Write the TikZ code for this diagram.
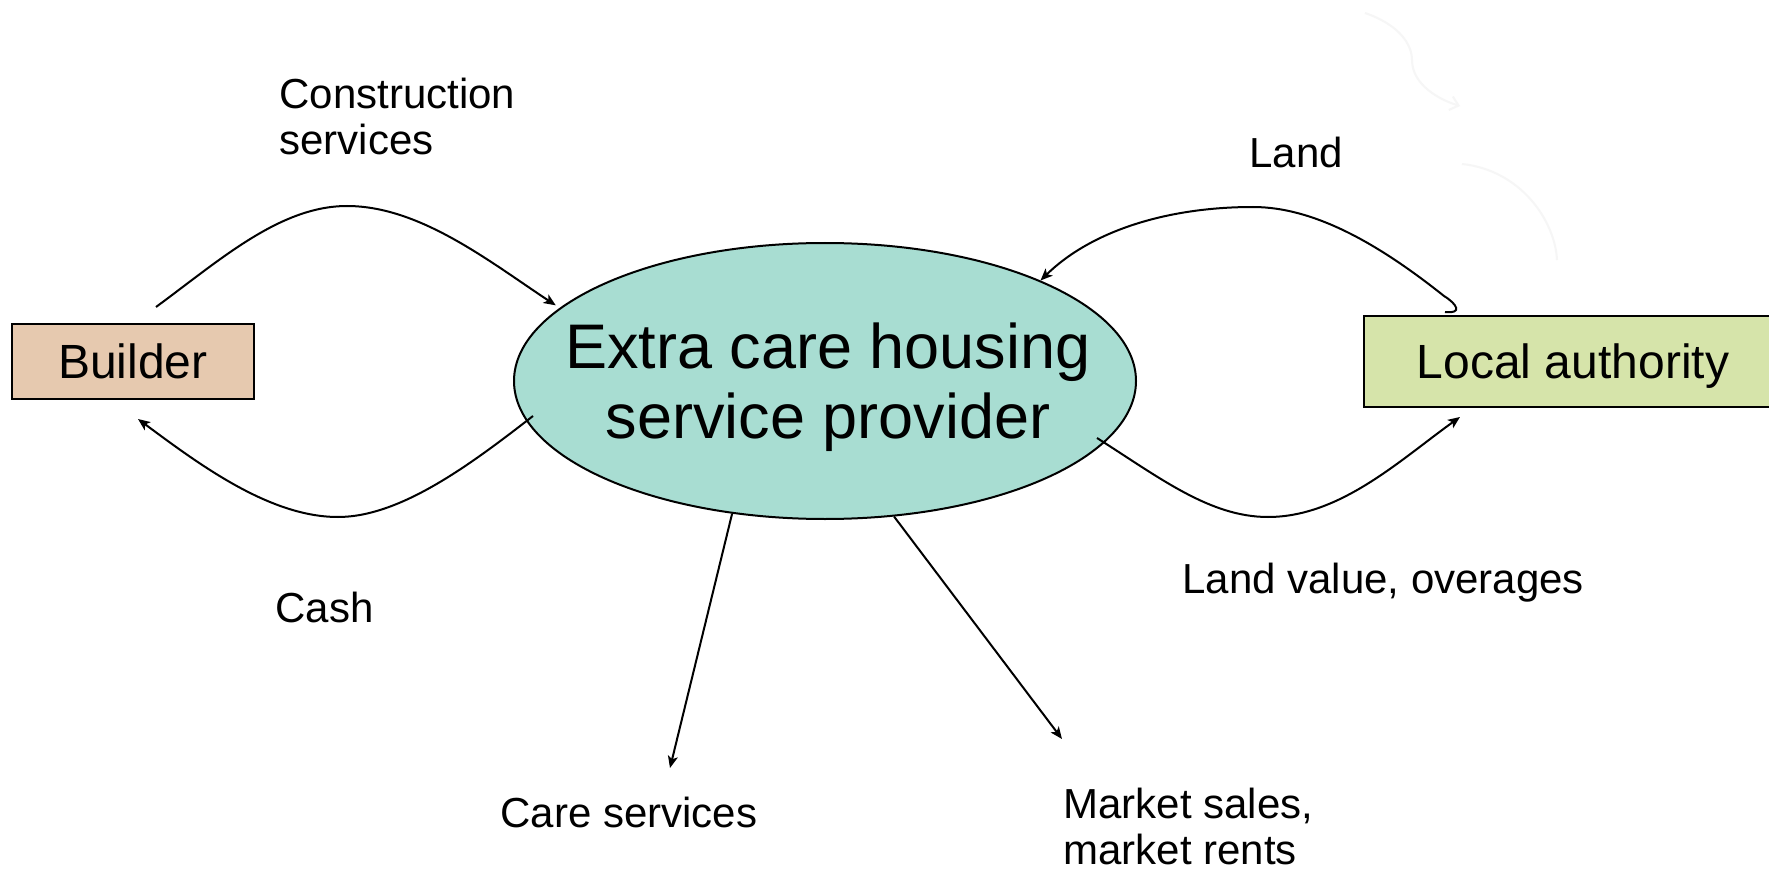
\documentclass[tikz,border=0pt]{standalone}
\usepackage{fontspec}
\setmainfont{Liberation Sans}
\usetikzlibrary{shapes.geometric,arrows.meta,calc}

\definecolor{builderfill}{RGB}{230,201,175}
\definecolor{authorityfill}{RGB}{214,228,170}
\definecolor{providerfill}{RGB}{168,221,210}
\definecolor{ghost}{RGB}{246,246,246}

\begin{document}
\begin{tikzpicture}[x=0.5pt,y=-0.5pt,
  flow/.style={line width=1pt,-{Stealth[length=6pt,width=5pt,inset=1.5pt]}},
  party/.style={draw,line width=1pt,inner sep=0pt,text depth=0pt,
    font=\fontsize{24}{28}\selectfont},
  flowtext/.style={inner sep=0pt,align=left,font=\fontsize{21}{23}\selectfont},
  ghostline/.style={draw=ghost,line width=1pt}]
\useasboundingbox (0,0) rectangle (1769,872);
\fill[white] (0,0) rectangle (1769,872);

% the three parties
\node[party,fill=builderfill,minimum width=121pt,minimum height=37.5pt]
  (builder) at (133,361.5) {Builder};
\node[party,fill=authorityfill,minimum width=209pt,minimum height=45.5pt]
  (authority) at (1573,361.5) {Local authority};
\node[ellipse,draw,line width=1pt,fill=providerfill,inner sep=0pt,
  minimum width=311pt,minimum height=138pt] (provider) at (825,381) {};
\node[align=center,inner sep=0pt,font=\fontsize{31.5}{35}\selectfont]
  (providertext) at (828,387) {Extra care housing\\service provider};

% labels of the flows (base anchor sits on the last line)
\node[flowtext,anchor=base west] (construction) at (279,155) {Construction\\services};
\node[flowtext,anchor=base west] (cash) at (275,622) {Cash};
\node[flowtext,anchor=base west] (land) at (1249,168) {Land};
\node[flowtext,anchor=base west] (landvalue) at (1182,593) {Land value, overages};
\node[flowtext,anchor=base west] (care) at (500,827) {Care services};
\node[flowtext,anchor=base west] (market) at (1063,864) {Market sales,\\market rents};

% free ends of the flows
\coordinate (builderout) at (156,307);
\coordinate (builderin) at (138,419);
\coordinate (cashout) at (533,416);
\coordinate (landout) at (1445,312);
\coordinate (landvalueout) at (1097,438);
\coordinate (authorityin) at (1460,417);
\coordinate (careend) at (670,768);
\coordinate (marketend) at (1062,739);

% builder <-> provider
\draw[flow] (builderout) .. controls (220,260) and (280,206) .. (347,206)
  .. controls (420,206) and (490,262) .. ($(provider.163)+(-12,3)$);
\draw[flow] (cashout) .. controls (470,465) and (400,517) .. (338,517)
  .. controls (270,517) and (200,465) .. (builderin);

% authority <-> provider
\draw[flow] (landout) .. controls (1463,314) and (1457,304) .. (1444,296)
  .. controls (1380,245) and (1315,207) .. (1253,207)
  .. controls (1165,207) and (1090,232) .. (provider.25);
\draw[flow] (landvalueout) .. controls (1160,478) and (1210,517) .. (1268,517)
  .. controls (1340,517) and (1400,460) .. (authorityin);

% outputs of the provider
\draw[flow] (provider.235) -- (careend);
\draw[flow] (provider.297) -- (marketend);

% faint strokes in the top right corner
\draw[ghostline,-{Straight Barb[length=4pt,width=7pt]}] (1365,13)
  .. controls (1400,25) and (1412,45) .. (1412,60)
  .. controls (1412,85) and (1440,100) .. (1460,106);
\draw[ghostline] (1462,164) .. controls (1520,170) and (1555,220) .. (1557,260);
\end{tikzpicture}
\end{document}
